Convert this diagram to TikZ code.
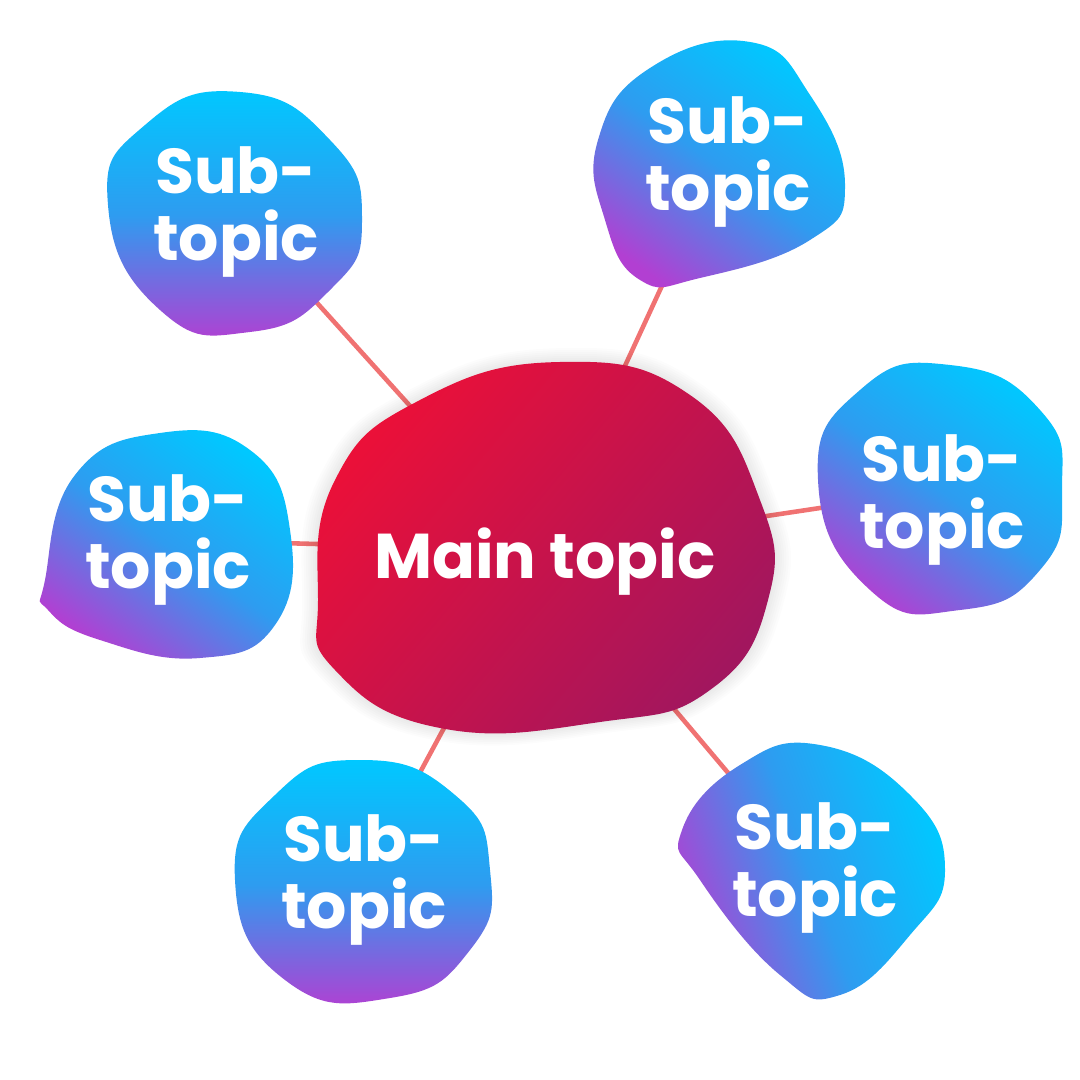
\documentclass[tikz,border=0pt]{standalone}
\usepackage{fontspec}
\setmainfont{Poppins}
\usepackage{xcolor}
\usetikzlibrary{positioning, calc}
\definecolor{topicred}{HTML}{EC1038}
\definecolor{topicplum}{HTML}{A2165E}
\definecolor{subcyan}{HTML}{00C8FF}
\definecolor{subblue}{HTML}{2E9CF0}
\definecolor{subpurple}{HTML}{B23FD2}
\definecolor{linkred}{HTML}{F07272}
\tikzset{
  blob/.style={top color=subcyan, bottom color=subpurple, middle color=subblue},
  label/.style={text=white, align=center, font=\fontsize{18}{19}\selectfont\bfseries},
  link/.style={linkred, line width=1.3pt}
}

\begin{document}
\begin{tikzpicture}[x=0.01cm, y=-0.01cm]
            \useasboundingbox (0,0) rectangle (1080,1080);
            % Nodes
            \coordinate (main) at (540,550);
            \coordinate (s1) at (235,212);
            \coordinate (s2) at (720,160);
            \coordinate (s3) at (168,540);
            \coordinate (s4) at (940,490);
            \coordinate (s5) at (362,880);
            \coordinate (s6) at (810,870);

            % Links
            \draw[link] (main) -- (s1);
            \draw[link] (main) -- (s2);
            \draw[link] (main) -- (s3);
            \draw[link] (main) -- (s4);
            \draw[link] (main) -- (s5);
            \draw[link] (main) -- (s6);

            % Shadow
            \foreach \s in {1.01,1.02,...,1.08}
              \fill[black, opacity=0.012, scale around={\s:(545,560)}] plot[smooth cycle, tension=0.8] coordinates {(318,600) (335,480) (420,400) (560,362) (690,395) (760,500) (768,600) (710,690) (600,722) (440,728) (335,670)};

            % Blobs
            \shade[top color=topicred, bottom color=topicplum, shading angle=50]
              plot[smooth cycle, tension=0.8] coordinates {(318,600) (335,480) (420,400) (560,362) (690,395) (760,500) (768,600) (710,690) (600,722) (440,728) (335,670)};
            \shade[blob, shading angle=0]
              plot[smooth cycle, tension=0.9] coordinates {(108,205) (145,125) (240,92) (330,140) (362,220) (330,290) (250,332) (160,310)};
            \shade[blob, shading angle=-35]
              plot[smooth cycle, tension=0.8] coordinates {(598,140) (650,68) (750,42) (810,95) (845,185) (810,240) (700,278) (640,280) (605,220)};
            \shade[blob, shading angle=-35]
              plot[smooth cycle, tension=0.8] coordinates {(45,580) (75,475) (160,433) (250,450) (290,530) (275,625) (200,658) (100,640) (48,610)};
            \shade[blob, shading angle=-35]
              plot[smooth cycle, tension=0.9] coordinates {(818,480) (860,390) (950,365) (1040,410) (1062,490) (1040,570) (960,610) (870,590)};
            \shade[blob, shading angle=0]
              plot[smooth cycle, tension=0.9] coordinates {(235,880) (275,795) (360,760) (455,795) (490,870) (470,950) (390,998) (285,980)};
            \shade[blob, shading angle=-70]
              plot[smooth cycle, tension=0.8] coordinates {(682,830) (740,765) (820,745) (910,795) (945,870) (910,935) (840,995) (780,975) (700,880)};

            % Labels
            \node[label] (mainL) at (545,562) {Main topic};
            \node[label] (s1L) at (236,212) {Sub-\\topic};
            \node[label] (s2L) at (728,162) {Sub-\\topic};
            \node[label] (s3L) at (168,540) {Sub-\\topic};
            \node[label] (s4L) at (942,500) {Sub-\\topic};
            \node[label] (s5L) at (364,880) {Sub-\\topic};
            \node[label] (s6L) at (815,868) {Sub-\\topic};
        \end{tikzpicture}
\end{document}
